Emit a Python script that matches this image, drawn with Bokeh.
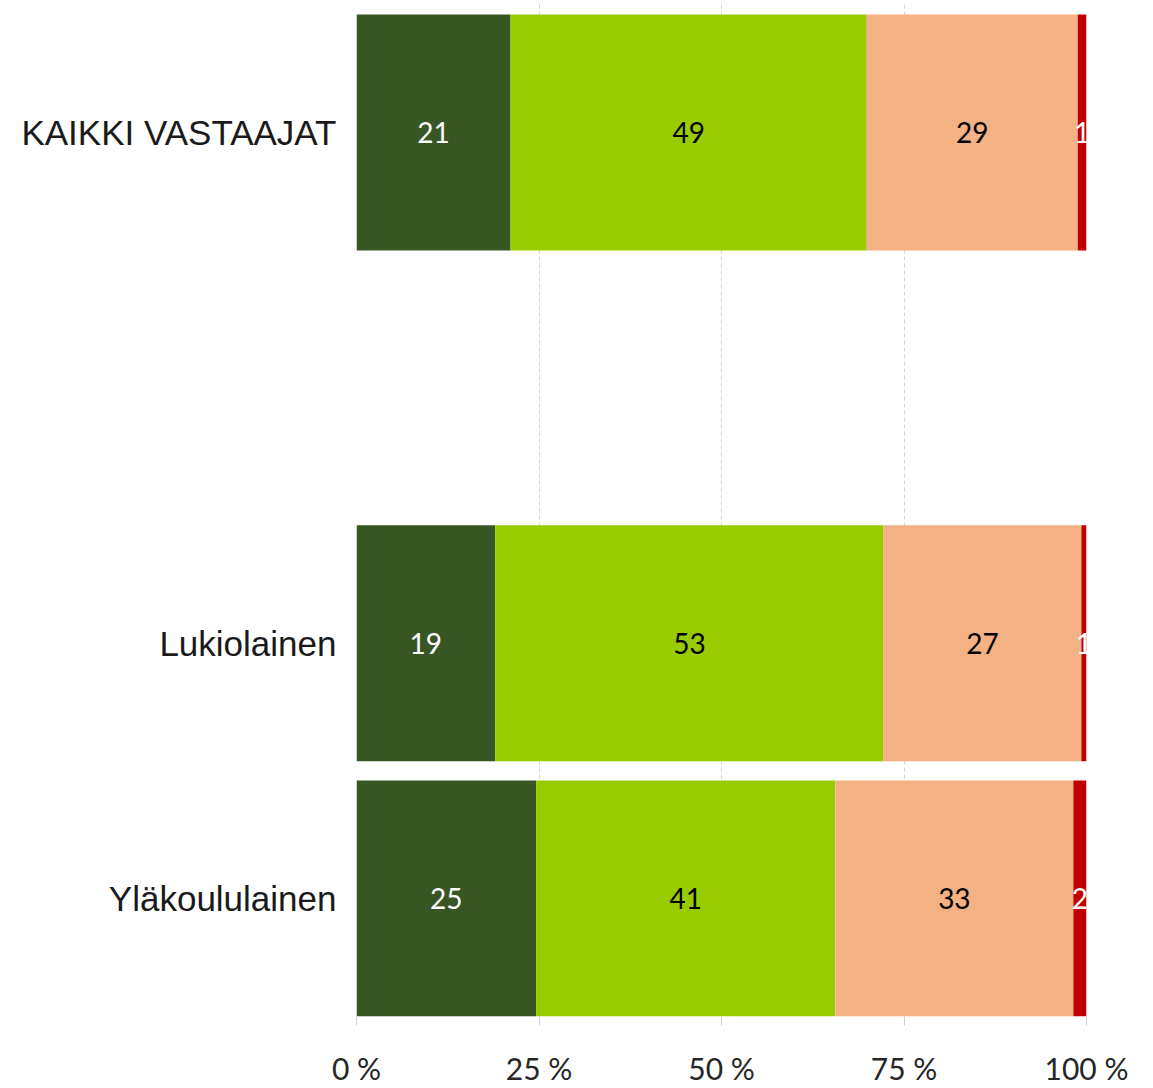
from bokeh.plotting import figure
from bokeh.models import ColumnDataSource, Range1d, FixedTicker
from bokeh.core.properties import value
from bokeh.embed import file_html
from bokeh.resources import INLINE

# ---- data ----
categories = ["KAIKKI VASTAAJAT", "", "Lukiolainen", "Yläkoululainen"]
series = ["s1", "s2", "s3", "s4"]
s1 = [21.1, None, 19.0, 24.6]
s2 = [48.8, None, 53.2, 41.0]
s3 = [28.9, None, 27.1, 32.6]
s4 = [1.2, None, 0.7, 1.8]
colors = ["#375623", "#99CC00", "#F4B183", "#C00000"]
label_colors = ["white", "black", "black", "white"]
x_ticks = [0, 25, 50, 75, 100]
x_tick_labels = ["0 %", "25 %", "50 %", "75 %", "100 %"]

n = len(categories)
ypos = [n - 1 - i for i in range(n)]  # first category at top
rows = [i for i in range(n) if categories[i] != ""]

data = {"y": [ypos[i] for i in rows]}
for name, vals in zip(series, [s1, s2, s3, s4]):
    data[name] = [vals[i] for i in rows]
source = ColumnDataSource(data)

p = figure(width=1148, height=1088, output_backend="svg", toolbar_location=None,
           x_range=Range1d(0, 100), y_range=Range1d(-0.462, 3.501),
           min_border_left=356, min_border_right=62, min_border_top=4,
           min_border_bottom=72)
p.outline_line_color = None
p.background_fill_color = "white"

p.hbar_stack(series, y="y", height=0.924, color=colors, source=source,
             line_color=None)

# data labels
for k, name in enumerate(series):
    xs, ys, ts = [], [], []
    for j, i in enumerate(rows):
        start = sum(data[series[m]][j] for m in range(k))
        v = data[name][j]
        xs.append(start + v / 2.0)
        ys.append(data["y"][j])
        ts.append(str(int(round(v))))
    p.text(x=xs, y=ys, text=ts, text_align="center", text_baseline="middle",
           text_color=label_colors[k], text_font=value("Lato"),
           text_font_size="28px")

# x axis
p.xaxis.ticker = FixedTicker(ticks=x_ticks)
p.xaxis.major_label_overrides = {t: l for t, l in zip(x_ticks, x_tick_labels)}
p.xaxis.axis_line_color = None
p.xaxis.major_tick_line_color = "#d0d0d0"
p.xaxis.major_tick_out = 9
p.xaxis.major_tick_in = 0
p.xaxis.minor_tick_line_color = None
p.xaxis.major_label_text_font = "Lato"
p.xaxis.major_label_text_font_size = "30px"
p.xaxis.major_label_text_color = "#262626"
p.xaxis.major_label_standoff = 24

p.xgrid.ticker = FixedTicker(ticks=x_ticks)
p.xgrid.grid_line_color = "#d4d4d4"
p.xgrid.grid_line_dash = "4 3"
p.xgrid.grid_line_width = 1
p.ygrid.grid_line_color = None

# y axis
p.yaxis.ticker = FixedTicker(ticks=[ypos[i] for i in rows])
p.yaxis.major_label_overrides = {ypos[i]: categories[i] for i in rows}
p.yaxis.axis_line_color = None
p.yaxis.major_tick_line_color = None
p.yaxis.minor_tick_line_color = None
p.yaxis.major_label_text_font = "Liberation Sans"
p.yaxis.major_label_text_font_size = "35px"
p.yaxis.major_label_text_color = "#1a1a1a"
p.yaxis.major_label_standoff = 14

open("out.html", "w").write(file_html(p, INLINE))
